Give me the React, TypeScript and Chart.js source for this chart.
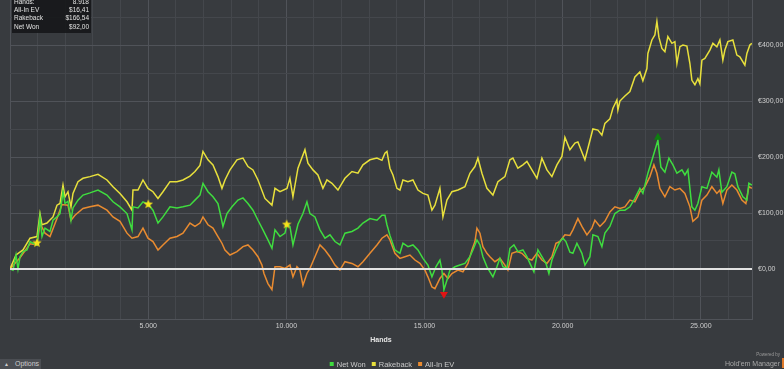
import { useEffect, useRef } from 'react';
import { Chart, registerables } from 'chart.js';

Chart.register(...registerables);

const seriesNames = ['Net Won', 'Rakeback', 'All-In EV'];
const seriesColors = ['#3fdc3f', '#e8e03c', '#e98b30'];

const netWon: [number, number][] = [[0,0],[109,-2],[217,25],[289,0],[362,22],[470,31],[615,34],[724,49],[832,46],[977,43],[1085,93],[1158,58],[1266,73],[1447,67],[1556,87],[1700,93],[1809,99],[1918,138],[1990,117],[2098,121],[2207,87],[2279,109],[2460,123],[2641,132],[2894,136],[3184,141],[3509,132],[3727,120],[3980,111],[4233,99],[4414,70],[4450,111],[4631,109],[4812,120],[4993,116],[5174,105],[5355,82],[5535,93],[5789,111],[6042,109],[6259,111],[6512,114],[6693,123],[6874,132],[6983,153],[7164,138],[7345,129],[7525,117],[7634,93],[7706,76],[7851,99],[8032,111],[8249,123],[8430,127],[8611,117],[8792,105],[8973,87],[9154,70],[9334,52],[9479,37],[9588,70],[9769,58],[9950,64],[10022,80],[10130,76],[10239,43],[10420,80],[10601,99],[10745,120],[10854,99],[11035,93],[11216,70],[11397,55],[11578,61],[11759,49],[11939,43],[12120,64],[12374,67],[12591,73],[12772,82],[13025,90],[13278,87],[13459,96],[13568,96],[13640,79],[13748,60],[13929,34],[14110,28],[14219,46],[14400,40],[14581,43],[14762,34],[14943,19],[15123,7],[15268,-14],[15413,4],[15557,16],[15630,-2],[15702,-37],[15811,-20],[15919,-2],[16100,4],[16281,7],[16462,10],[16643,22],[16751,34],[16896,52],[17005,43],[17113,22],[17258,4],[17366,-5],[17475,-14],[17620,4],[17728,19],[17837,4],[17981,1],[18090,37],[18235,43],[18379,31],[18560,34],[18705,22],[18814,10],[18958,-5],[19103,34],[19248,22],[19392,10],[19501,-8],[19610,16],[19754,34],[19899,49],[20008,55],[20116,49],[20261,30],[20369,28],[20514,46],[20695,28],[20804,7],[20985,22],[21093,61],[21274,58],[21418,40],[21527,64],[21708,76],[21889,99],[22070,105],[22251,105],[22432,111],[22613,126],[22793,144],[22902,135],[23083,171],[23264,200],[23445,230],[23553,182],[23698,173],[23843,198],[23988,186],[24133,171],[24314,177],[24422,168],[24531,177],[24675,111],[24784,105],[24892,117],[25037,147],[25218,144],[25398,173],[25579,164],[25651,177],[25760,137],[25941,147],[26122,173],[26230,170],[26339,147],[26520,129],[26665,123],[26737,153],[26845,150]];

const rakeback: [number, number][] = [[0,0],[217,25],[470,34],[724,55],[977,58],[1085,99],[1158,79],[1338,82],[1556,93],[1700,114],[1809,117],[1918,150],[1990,129],[2098,138],[2207,111],[2279,135],[2460,156],[2641,162],[2894,165],[3184,169],[3509,159],[3727,147],[3980,135],[4233,120],[4414,105],[4450,141],[4631,141],[4812,159],[4993,144],[5174,138],[5355,126],[5535,138],[5789,156],[6042,156],[6259,159],[6512,166],[6693,174],[6874,185],[6983,210],[7164,195],[7345,186],[7525,165],[7670,144],[7779,159],[7960,177],[8213,195],[8430,198],[8611,183],[8792,177],[8973,159],[9226,126],[9479,114],[9588,144],[9769,138],[10022,144],[10130,162],[10239,129],[10420,180],[10673,213],[10781,189],[10963,177],[11143,168],[11324,144],[11469,159],[11650,153],[11867,141],[12120,162],[12374,174],[12591,171],[12772,186],[13025,195],[13278,198],[13459,194],[13568,207],[13640,210],[13748,180],[13857,168],[14002,144],[14110,141],[14219,159],[14400,156],[14581,159],[14762,141],[14943,135],[15123,132],[15268,105],[15377,114],[15557,144],[15666,93],[15811,123],[15992,138],[16209,141],[16462,147],[16643,171],[16824,183],[16932,198],[17077,171],[17258,144],[17475,132],[17656,156],[17909,165],[18090,195],[18199,198],[18379,180],[18560,186],[18705,192],[18886,177],[19067,162],[19248,198],[19429,177],[19610,165],[19790,186],[19972,201],[20080,235],[20261,213],[20442,225],[20550,227],[20804,195],[21093,250],[21274,248],[21418,239],[21527,260],[21708,268],[21817,287],[21961,302],[21997,284],[22070,300],[22251,309],[22432,317],[22613,343],[22793,352],[22902,336],[23047,358],[23083,385],[23228,409],[23336,418],[23409,442],[23481,414],[23590,394],[23698,388],[23806,415],[23952,403],[24060,406],[24133,367],[24241,397],[24350,400],[24494,398],[24603,367],[24675,337],[24784,329],[24892,340],[24964,331],[25037,373],[25145,376],[25326,391],[25435,403],[25579,397],[25688,409],[25796,373],[25869,391],[25977,406],[26158,409],[26303,382],[26411,379],[26592,364],[26665,385],[26773,400],[26845,403]];

const allInEv: [number, number][] = [[0,0],[362,20],[724,45],[977,43],[1085,82],[1266,64],[1447,58],[1700,90],[1881,115],[2098,114],[2207,87],[2352,96],[2641,108],[2894,111],[3184,114],[3509,105],[3727,93],[3980,85],[4233,64],[4414,55],[4631,58],[4812,73],[4993,55],[5174,49],[5355,34],[5535,43],[5789,55],[6042,58],[6259,64],[6512,82],[6693,76],[6874,82],[6983,93],[7164,79],[7345,73],[7525,58],[7670,46],[7779,34],[7960,25],[8213,31],[8430,40],[8611,43],[8792,34],[8973,22],[9117,7],[9190,-8],[9334,-26],[9479,-37],[9588,4],[9769,4],[9950,1],[10130,7],[10239,-14],[10384,4],[10492,-2],[10601,-29],[10745,-8],[10854,1],[11035,22],[11216,43],[11397,34],[11578,22],[11759,7],[11939,-2],[12120,13],[12374,10],[12591,4],[12772,13],[13025,28],[13278,43],[13459,55],[13640,61],[13748,52],[13929,28],[14110,19],[14291,22],[14472,25],[14653,16],[14834,10],[15015,-2],[15123,-14],[15268,-32],[15377,-35],[15557,-17],[15702,-8],[15847,-17],[15992,-8],[16209,-2],[16390,-5],[16571,10],[16715,34],[16824,49],[16896,73],[17005,64],[17113,40],[17258,28],[17366,22],[17547,13],[17728,19],[17909,7],[18018,-2],[18162,28],[18343,31],[18524,28],[18705,19],[18886,16],[19067,28],[19248,16],[19429,10],[19610,22],[19754,46],[19899,49],[20080,61],[20261,60],[20369,70],[20550,90],[20695,76],[20876,61],[21057,73],[21165,87],[21346,76],[21527,85],[21708,102],[21889,111],[22070,108],[22251,111],[22432,123],[22613,120],[22793,138],[22974,147],[23155,165],[23300,186],[23409,171],[23517,144],[23698,129],[23879,147],[24060,141],[24241,144],[24422,135],[24603,111],[24711,85],[24892,93],[25037,123],[25218,132],[25398,147],[25579,135],[25688,141],[25796,117],[25941,141],[26122,150],[26303,141],[26484,123],[26628,117],[26737,147],[26845,144]];

// markers: three stars, session low (red down-triangle), session high (green up-triangle)
const markerPoints: [number, number][] = [[977,47],[5004,116],[10011,80],[15702,-45],[23445,235]];
const markerKinds = ['star', 'star', 'star', 'down', 'up'];
const markerColors = ['#f7e31c', '#f7e31c', '#f7e31c', '#e01414', '#0e7d10'];

const infoLabels = ['Hands:', 'All-In EV', 'Rakeback', 'Net Won'];
const infoValues = ['8.918', '$16,41', '$166,54', '$92,00'];

const xMax = 26850;
const yMin = -89.3;
const yMax = 480.4;

const FONT = "'Liberation Sans', Arial, sans-serif";
const BG = '#383b3f';
const GRID_MINOR = '#44474c';
const GRID_MAJOR = '#505359';

function fmtHands(v: number) {
  const th = Math.floor(v / 1000);
  const rest = String(v % 1000).padStart(3, '0');
  return th + '.' + rest;
}
function fmtEuro(v: number) {
  return '€' + v.toFixed(2).replace('.', ',');
}

function makeStar(color: string) {
  const c = document.createElement('canvas');
  c.width = 10;
  c.height = 10;
  const g = c.getContext('2d')!;
  g.fillStyle = color;
  g.beginPath();
  for (let i = 0; i < 10; i++) {
    const r = i % 2 === 0 ? 5 : 2.1;
    const a = -Math.PI / 2 + (i * Math.PI) / 5;
    const px = 5 + r * Math.cos(a);
    const py = 5.3 + r * Math.sin(a);
    if (i === 0) g.moveTo(px, py);
    else g.lineTo(px, py);
  }
  g.closePath();
  g.fill();
  return c;
}

const zeroLinePlugin = {
  id: 'zeroLine',
  afterDatasetsDraw(chart: any) {
    const { ctx, chartArea, scales } = chart;
    const y = scales.y.getPixelForValue(0);
    ctx.save();
    ctx.strokeStyle = '#e2e2e2';
    ctx.lineWidth = 2;
    ctx.beginPath();
    ctx.moveTo(chartArea.left, y);
    ctx.lineTo(chartArea.right, y);
    ctx.stroke();
    ctx.restore();
  },
};

const bottomLegendPlugin = {
  id: 'bottomLegend',
  afterDraw(chart: any) {
    const ctx = chart.ctx;
    const items = chart.data.datasets.filter((d: any) => seriesNames.includes(d.label));
    ctx.save();
    ctx.font = `7.5px ${FONT}`;
    ctx.textBaseline = 'middle';
    const box = 4;
    const gap = 3;
    const spacing = 6;
    const widths = items.map((d: any) => box + gap + ctx.measureText(d.label).width);
    const total = widths.reduce((a: number, b: number) => a + b, 0) + spacing * (items.length - 1);
    let x = chart.width / 2 - total / 2;
    const y = 364;
    items.forEach((d: any, i: number) => {
      ctx.fillStyle = d.borderColor;
      ctx.fillRect(x, y - box / 2, box, box);
      ctx.fillStyle = '#c9c9c9';
      ctx.fillText(d.label, x + box + gap, y + 0.5);
      x += widths[i] + spacing;
    });
    ctx.restore();
  },
};

export default function App() {
  const ref = useRef<HTMLCanvasElement>(null);

  useEffect(() => {
    document.body.style.margin = '0';
    document.body.style.background = BG;
    const star = makeStar(markerColors[0]);
    const lineData = [netWon, rakeback, allInEv];
    const chart = new Chart(ref.current!, {
      type: 'line',
      data: {
        datasets: [
          {
            label: 'markers',
            data: markerPoints.map(([x, y]) => ({ x, y })),
            showLine: false,
            pointStyle: markerKinds.map((k) => (k === 'star' ? star : 'triangle')) as any,
            rotation: markerKinds.map((k) => (k === 'down' ? 180 : 0)),
            pointRadius: markerKinds.map((k) => (k === 'star' ? 5 : 4.6)),
            backgroundColor: markerColors,
            borderColor: markerColors,
            borderWidth: 0,
          } as any,
          ...seriesNames.map((name, i) => ({
            label: name,
            data: lineData[i].map(([x, y]) => ({ x, y })),
            borderColor: seriesColors[i],
            backgroundColor: seriesColors[i],
            borderWidth: 1.5,
            pointRadius: 0,
            tension: 0,
            fill: false,
          })),
        ],
      },
      options: {
        animation: false,
        responsive: false,
        events: [],
        layout: { autoPadding: false, padding: { left: 10, right: 0, top: 0, bottom: 23 } },
        plugins: { legend: { display: false }, tooltip: { enabled: false } },
        scales: {
          x: {
            type: 'linear',
            min: 0,
            max: xMax,
            afterBuildTicks: (s: any) => {
              const t = [];
              for (let v = 0; v <= 26000; v += 1000) t.push({ value: v });
              s.ticks = t;
            },
            afterFit: (s: any) => {
              s.height = 27;
              s.paddingLeft = 0;
              s.paddingRight = 0;
            },
            grid: {
              color: (c: any) => (c.tick && c.tick.value % 5000 === 0 ? GRID_MAJOR : GRID_MINOR),
              drawTicks: false,
              lineWidth: 1,
            },
            border: { display: true, color: GRID_MAJOR },
            ticks: {
              color: '#cfcfcf',
              font: { size: 7, family: FONT },
              padding: 3,
              maxRotation: 0,
              autoSkip: false,
              callback: (v: any) => (v > 0 && v % 5000 === 0 ? fmtHands(v) : ''),
            },
            title: {
              display: true,
              text: 'Hands',
              color: '#e6e6e6',
              font: { size: 7, weight: 'bold', family: FONT },
              padding: { top: 0, bottom: 2 },
            },
          },
          y: {
            type: 'linear',
            position: 'right',
            min: yMin,
            max: yMax,
            afterBuildTicks: (s: any) => {
              const t = [];
              for (let v = -50; v <= 450; v += 50) t.push({ value: v });
              s.ticks = t;
            },
            afterFit: (s: any) => {
              s.width = 32;
              s.paddingTop = 0;
              s.paddingBottom = 0;
            },
            grid: {
              color: (c: any) => (c.tick && c.tick.value % 100 === 0 ? GRID_MAJOR : GRID_MINOR),
              drawTicks: false,
              lineWidth: 1,
            },
            border: { display: true, color: GRID_MAJOR },
            ticks: {
              color: '#cfcfcf',
              font: { size: 7, family: FONT },
              padding: 6,
              callback: (v: any) => (v % 100 === 0 && v >= 0 ? fmtEuro(v) : ''),
            },
          },
        },
      } as any,
      plugins: [zeroLinePlugin, bottomLegendPlugin],
    });
    return () => chart.destroy();
  }, []);

  return (
    <div style={{ position: 'relative', width: 784, height: 369, background: BG, overflow: 'hidden', fontFamily: FONT }}>
      <canvas ref={ref} width={784} height={369} style={{ display: 'block' }} />
      <div
        style={{
          position: 'absolute',
          left: 12,
          top: 0,
          width: 79,
          height: 33,
          background: 'rgba(22,23,25,0.9)',
          color: '#e2e2e2',
          fontSize: 6.5,
        }}
      >
        {infoLabels.map((l, i) => (
          <div
            key={l}
            style={{
              position: 'absolute',
              left: 2,
              right: 2,
              top: -2.5 + i * 8.35,
              height: 8.35,
              lineHeight: '8.35px',
              display: 'flex',
              justifyContent: 'space-between',
            }}
          >
            <span>{l}</span>
            <span>{infoValues[i]}</span>
          </div>
        ))}
      </div>
      <div
        style={{
          position: 'absolute',
          left: 0,
          top: 359,
          width: 41,
          height: 10,
          background: '#4b4e53',
          color: '#cdcdcd',
          fontSize: 7,
          lineHeight: '10px',
          whiteSpace: 'nowrap',
        }}
      >
        <span style={{ position: 'absolute', left: 4, fontSize: 5 }}>▲</span>
        <span style={{ position: 'absolute', left: 15 }}>Options</span>
      </div>
      <div style={{ position: 'absolute', right: 4, top: 352, color: '#9a9a9a', fontSize: 4.5, lineHeight: '5px' }}>Powered by</div>
      <div style={{ position: 'absolute', right: 4, top: 359, color: '#a8a8a8', fontSize: 7, lineHeight: '9px', whiteSpace: 'nowrap' }}>
        Hold'em Manager
      </div>
      <div style={{ position: 'absolute', right: 0, top: 358, width: 2, height: 10, background: '#e07a2a' }} />
    </div>
  );
}
